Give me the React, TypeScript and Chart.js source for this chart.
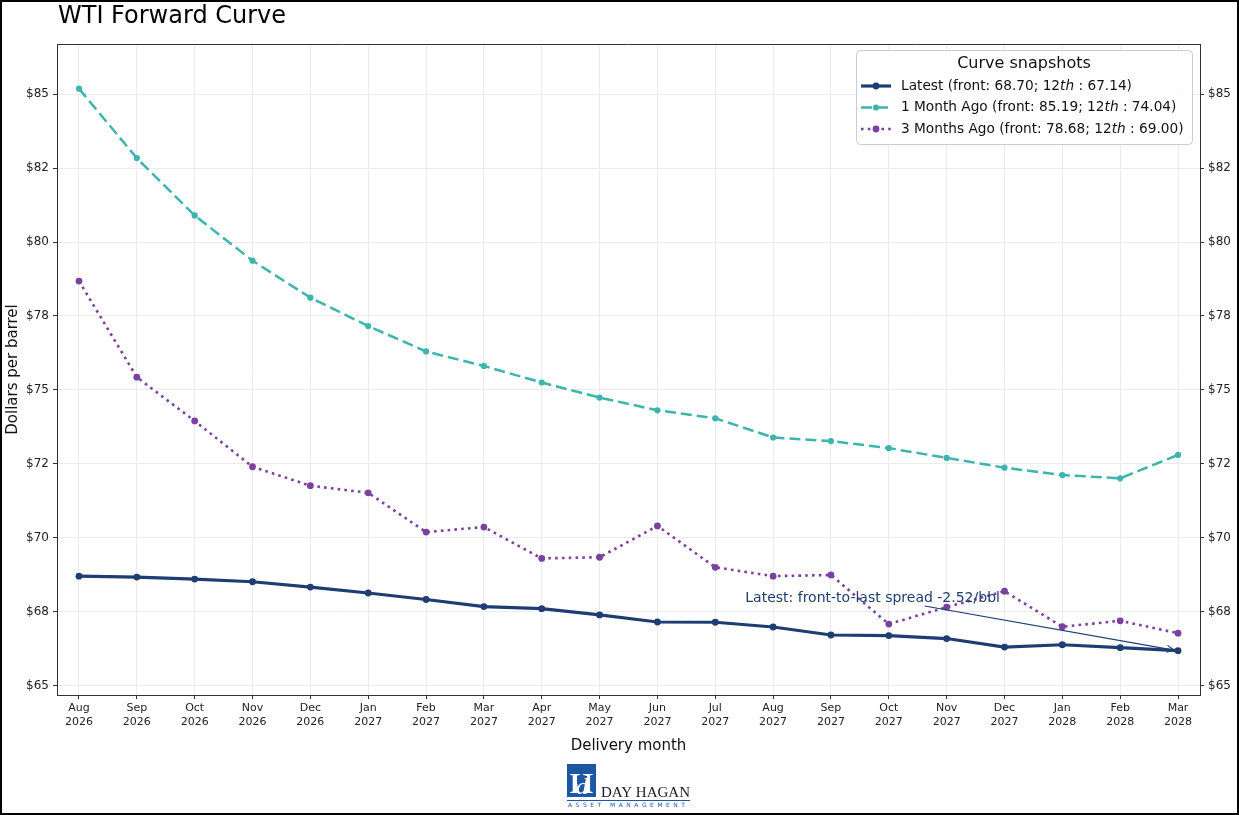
import React, { useEffect, useRef } from "react";
import { Chart, registerables } from "chart.js";

Chart.register(...registerables);

// ---------- Data ----------
const chartTitle = "WTI Forward Curve";
const monthLabels = ["Aug", "Sep", "Oct", "Nov", "Dec", "Jan", "Feb", "Mar", "Apr", "May", "Jun", "Jul", "Aug", "Sep", "Oct", "Nov", "Dec", "Jan", "Feb", "Mar"];
const yearLabels = ["2026", "2026", "2026", "2026", "2026", "2027", "2027", "2027", "2027", "2027", "2027", "2027", "2027", "2027", "2027", "2027", "2027", "2028", "2028", "2028"];

const latest = [68.7, 68.67, 68.6, 68.51, 68.33, 68.13, 67.91, 67.67, 67.6, 67.39, 67.15, 67.14, 66.98, 66.71, 66.69, 66.59, 66.3, 66.38, 66.28, 66.18];
const oneMonthAgo = [85.19, 82.84, 80.9, 79.37, 78.12, 77.16, 76.3, 75.81, 75.25, 74.74, 74.31, 74.04, 73.39, 73.27, 73.03, 72.7, 72.37, 72.12, 72.01, 72.8];
const threeMonthsAgo = [78.68, 75.43, 73.95, 72.4, 71.76, 71.52, 70.19, 70.36, 69.3, 69.34, 70.4, 69.0, 68.7, 68.74, 67.08, 67.65, 68.19, 66.99, 67.19, 66.77];

const seriesNames = ["Latest", "1 Month Ago", "3 Months Ago"];
const frontValues = ["68.70", "85.19", "78.68"];
const twelfthValues = ["67.14", "74.04", "69.00"];

const yTickValues = [65, 67.5, 70, 72.5, 75, 77.5, 80, 82.5, 85];
const yTickLabels = ["$65", "$68", "$70", "$72", "$75", "$78", "$80", "$82", "$85"];

const legendTitle = "Curve snapshots";
const xAxisTitle = "Delivery month";
const yAxisTitle = "Dollars per barrel";
const annotationText = "Latest: front-to-last spread -2.52/bbl";
const annotationTextPos = { x: 13.72, y: 67.96 };
const annotationArrowStart = { x: 14.62, y: 67.69 };
const annotationArrowEnd = { x: 18.93, y: 66.2 };

// ---------- Styles ----------
const FONT = "'DejaVu Sans', sans-serif";
const NAVY = "#1e3d72";
const TEAL = "#3cb5ad";
const PURPLE = "#7c41a0";
const GRID = "#ebebeb";
const AXIS = "#333333";

const decorPlugin = {
  id: "decor",
  beforeDraw(chart: any) {
    const ctx = chart.ctx;
    ctx.save();
    ctx.fillStyle = "#ffffff";
    ctx.fillRect(0, 0, chart.width, chart.height);
    ctx.restore();
  },
  afterDraw(chart: any) {
    const ctx = chart.ctx;
    const { left, right, top, bottom } = chart.chartArea;
    const xs = chart.scales.x;
    const ys = chart.scales.y;
    ctx.save();

    // top border of the plot
    ctx.strokeStyle = AXIS;
    ctx.lineWidth = 1;
    ctx.beginPath();
    ctx.moveTo(left, Math.round(top) + 0.5);
    ctx.lineTo(right, Math.round(top) + 0.5);
    ctx.stroke();

    // figure border
    ctx.strokeStyle = "#000";
    ctx.lineWidth = 2;
    ctx.strokeRect(1, 1, chart.width - 2, chart.height - 2);

    // title
    ctx.fillStyle = "#000";
    ctx.font = `24px ${FONT}`;
    ctx.textAlign = "left";
    ctx.textBaseline = "middle";
    ctx.fillText(chartTitle, 58, 17);

    // axis titles
    ctx.font = `15px ${FONT}`;
    ctx.textAlign = "center";
    ctx.fillStyle = "#111";
    ctx.fillText(xAxisTitle, (left + right) / 2, 746);
    ctx.save();
    ctx.translate(13, (top + bottom) / 2);
    ctx.rotate(-Math.PI / 2);
    ctx.fillText(yAxisTitle, 0, 0);
    ctx.restore();

    // annotation
    ctx.fillStyle = NAVY;
    ctx.font = `14px ${FONT}`;
    ctx.textAlign = "center";
    ctx.textBaseline = "middle";
    ctx.fillText(annotationText, xs.getPixelForValue(annotationTextPos.x), ys.getPixelForValue(annotationTextPos.y));
    const ax0 = xs.getPixelForValue(annotationArrowStart.x);
    const ay0 = ys.getPixelForValue(annotationArrowStart.y);
    const ax1 = xs.getPixelForValue(annotationArrowEnd.x);
    const ay1 = ys.getPixelForValue(annotationArrowEnd.y);
    ctx.strokeStyle = NAVY;
    ctx.lineWidth = 1.2;
    ctx.beginPath();
    ctx.moveTo(ax0, ay0);
    ctx.lineTo(ax1, ay1);
    const ang = Math.atan2(ay1 - ay0, ax1 - ax0);
    const hl = 8;
    ctx.moveTo(ax1 - hl * Math.cos(ang - 0.45), ay1 - hl * Math.sin(ang - 0.45));
    ctx.lineTo(ax1, ay1);
    ctx.lineTo(ax1 - hl * Math.cos(ang + 0.45), ay1 - hl * Math.sin(ang + 0.45));
    ctx.stroke();

    // legend
    const lx = 856, ly = 50, lw = 336, lh = 94;
    ctx.fillStyle = "rgba(255,255,255,0.85)";
    ctx.strokeStyle = "#cccccc";
    ctx.lineWidth = 1;
    ctx.beginPath();
    (ctx as any).roundRect(lx + 0.5, ly + 0.5, lw, lh, 4);
    ctx.fill();
    ctx.stroke();
    ctx.fillStyle = "#111";
    ctx.font = `16px ${FONT}`;
    ctx.textAlign = "center";
    ctx.fillText(legendTitle, lx + lw / 2, 64);
    const rowsY = [86, 107.5, 129];
    chart.data.datasets.forEach((ds: any, i: number) => {
      const y = rowsY[i];
      ctx.save();
      ctx.strokeStyle = ds.borderColor;
      ctx.lineWidth = ds.borderWidth;
      ctx.setLineDash(ds.borderDash || []);
      ctx.lineCap = ds.borderCapStyle || "butt";
      ctx.beginPath();
      ctx.moveTo(861, y);
      ctx.lineTo(891, y);
      ctx.stroke();
      ctx.setLineDash([]);
      ctx.fillStyle = ds.pointBackgroundColor;
      ctx.beginPath();
      ctx.arc(876, y, ds.pointRadius, 0, Math.PI * 2);
      ctx.fill();
      ctx.restore();
      // text segments
      ctx.fillStyle = "#111";
      ctx.textAlign = "left";
      let x = 901;
      const segs: [string, boolean][] = [
        [`${seriesNames[i]} (front: ${frontValues[i]}; 12`, false],
        ["th", true],
        [` : ${twelfthValues[i]})`, false],
      ];
      for (const [t, it] of segs) {
        ctx.font = `${it ? "italic " : ""}13.7px ${FONT}`;
        ctx.fillText(t, x, y);
        x += ctx.measureText(t).width;
      }
    });

    // logo
    const bx = 567, by = 764;
    ctx.fillStyle = "#1d56a3";
    ctx.fillRect(bx, by, 29, 33);
    ctx.fillStyle = "#ffffff";
    ctx.font = `bold 30px 'Liberation Serif', serif`;
    ctx.textAlign = "center";
    ctx.textBaseline = "alphabetic";
    ctx.fillText("H", bx + 14.5, by + 29);
    ctx.fillStyle = "#1d56a3";
    ctx.fillRect(bx + 10, by + 12, 10, 8);
    ctx.fillStyle = "#ffffff";
    ctx.font = `italic 24px 'Liberation Serif', serif`;
    ctx.fillText("d", bx + 15, by + 30);
    ctx.fillStyle = "#1a1a2a";
    ctx.font = `15px 'Liberation Serif', serif`;
    ctx.textAlign = "left";
    ctx.fillText("DAY HAGAN", 601, 797);
    ctx.strokeStyle = "#1d56a3";
    ctx.lineWidth = 1;
    ctx.beginPath();
    ctx.moveTo(567, 800.5);
    ctx.lineTo(690, 800.5);
    ctx.stroke();
    ctx.fillStyle = "#1d56a3";
    ctx.font = `6px ${FONT}`;
    const am = "ASSET MANAGEMENT";
    let cx = 568;
    for (const ch of am) {
      ctx.fillText(ch, cx, 807);
      cx += ctx.measureText(ch).width + 3.5;
    }

    ctx.restore();
  },
};

export default function App() {
  const canvasRef = useRef<HTMLCanvasElement | null>(null);

  useEffect(() => {
    const canvas = canvasRef.current;
    if (!canvas) return;
    const toPts = (arr: number[]) => arr.map((v, i) => ({ x: i, y: v }));
    const yTickBuilder = (s: any) => {
      s.ticks = yTickValues.map((v) => ({ value: v }));
    };
    const yTickLabel = (v: any) => {
      const idx = yTickValues.indexOf(Number(v));
      return idx >= 0 ? yTickLabels[idx] : "";
    };
    const chart = new Chart(canvas, {
      type: "line",
      data: {
        datasets: [
          {
            label: seriesNames[0],
            data: toPts(latest),
            borderColor: NAVY,
            backgroundColor: NAVY,
            pointBackgroundColor: NAVY,
            pointBorderWidth: 0,
            pointRadius: 3.4,
            borderWidth: 3.2,
            tension: 0,
            yAxisID: "y",
          },
          {
            label: seriesNames[1],
            data: toPts(oneMonthAgo),
            borderColor: TEAL,
            backgroundColor: TEAL,
            pointBackgroundColor: TEAL,
            pointBorderWidth: 0,
            pointRadius: 3.1,
            borderWidth: 2.5,
            borderDash: [11, 5],
            tension: 0,
            yAxisID: "y",
          },
          {
            label: seriesNames[2],
            data: toPts(threeMonthsAgo),
            borderColor: PURPLE,
            backgroundColor: PURPLE,
            pointBackgroundColor: PURPLE,
            pointBorderWidth: 0,
            pointRadius: 3.4,
            borderWidth: 2.6,
            borderDash: [2.6, 4.2],
            tension: 0,
            yAxisID: "y",
          },
        ] as any,
      },
      options: {
        responsive: false,
        animation: false,
        events: [],
        layout: { padding: { top: 44, left: 0, right: 0, bottom: 0 } },
        plugins: {
          legend: { display: false },
          tooltip: { enabled: false },
          title: { display: false },
        },
        scales: {
          x: {
            type: "linear",
            min: -0.38,
            max: 19.38,
            afterBuildTicks: (s: any) => {
              s.ticks = monthLabels.map((_, i) => ({ value: i }));
            },
            afterFit: (s: any) => {
              s.height = 120;
            },
            ticks: {
              autoSkip: false,
              maxRotation: 0,
              minRotation: 0,
              padding: 3,
              color: "#222",
              font: { family: FONT, size: 11 },
              callback: (v: any) => {
                const i = Math.round(Number(v));
                return [monthLabels[i], yearLabels[i]];
              },
            },
            grid: { color: GRID, lineWidth: 1, tickColor: AXIS, tickLength: 4 },
            border: { color: AXIS, width: 1 },
          },
          y: {
            type: "linear",
            position: "left",
            min: 64.68,
            max: 86.7,
            afterBuildTicks: yTickBuilder,
            afterFit: (s: any) => {
              s.width = 57;
            },
            ticks: {
              padding: 4,
              color: "#222",
              font: { family: FONT, size: 12 },
              callback: yTickLabel,
            },
            grid: { color: GRID, lineWidth: 1, tickColor: AXIS, tickLength: 4 },
            border: { color: AXIS, width: 1 },
          },
          y2: {
            type: "linear",
            position: "right",
            min: 64.68,
            max: 86.7,
            afterBuildTicks: yTickBuilder,
            afterFit: (s: any) => {
              s.width = 39;
            },
            ticks: {
              padding: 4,
              color: "#222",
              font: { family: FONT, size: 12 },
              callback: yTickLabel,
            },
            grid: { drawOnChartArea: false, tickColor: AXIS, tickLength: 4 },
            border: { color: AXIS, width: 1 },
          },
        },
      } as any,
      plugins: [decorPlugin],
    });
    return () => chart.destroy();
  }, []);

  return (
    <div style={{ position: "absolute", left: 0, top: 0, width: 1239, height: 815, background: "#fff" }}>
      <canvas ref={canvasRef} width={1239} height={815} style={{ display: "block", width: 1239, height: 815 }} />
    </div>
  );
}
